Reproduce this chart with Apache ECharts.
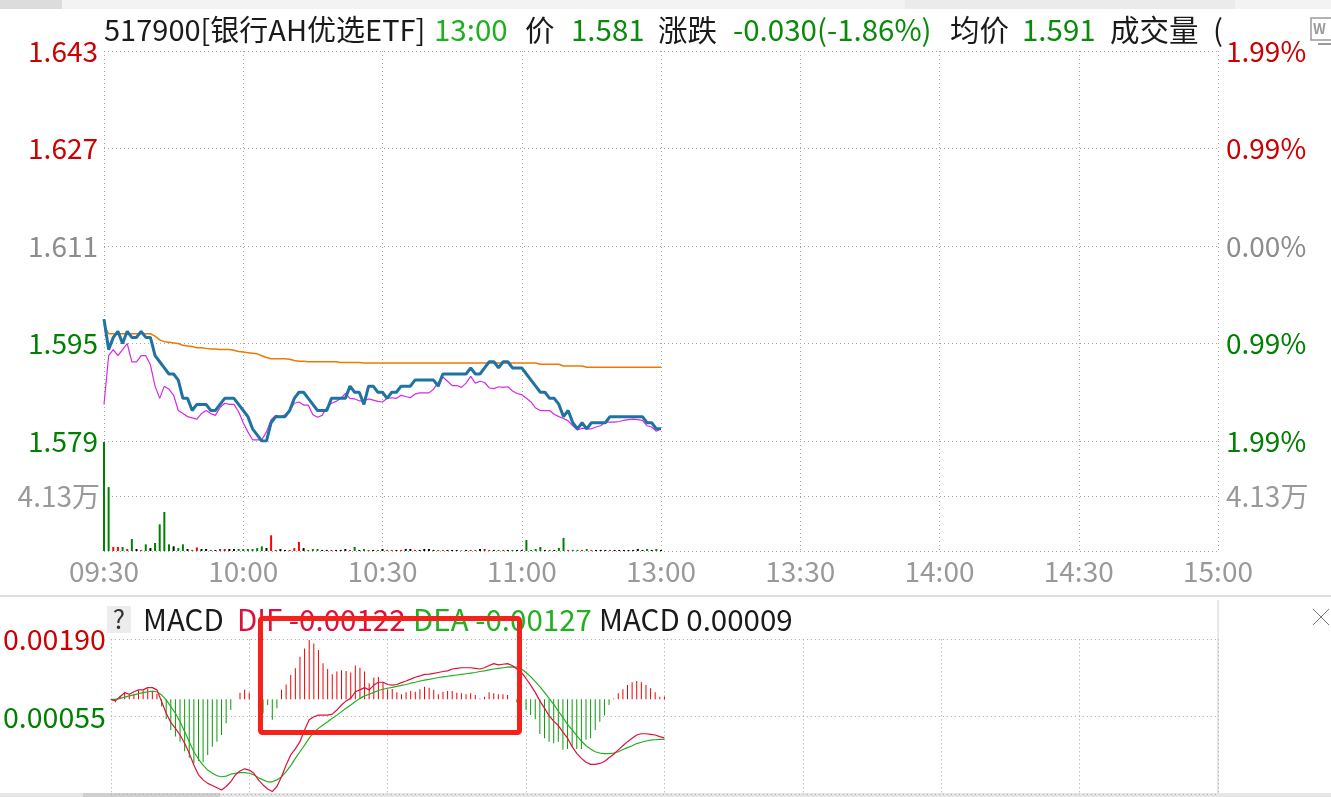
<!DOCTYPE html>
<html><head><meta charset="utf-8">
<script src="https://cdn.jsdelivr.net/npm/echarts@6/dist/echarts.min.js"></script>
<style>html,body{margin:0;padding:0;background:#fff;overflow:hidden}#c{width:1331px;height:797px;}</style>
</head><body><div id="c"></div><script>
// ---------------- DATA ----------------
const prevClose = 1.611;
const xTickLabels = ["09:30","10:00","10:30","11:00","13:00","13:30","14:00","14:30","15:00"];
const priceAxis = { min: 1.579, max: 1.643, interval: 0.016 };
const volAxis = { min: 0, max: 82600, interval: 41300 };
const macdAxis = { min: -0.0030, max: 0.0019, interval: 0.00245 };

const price = [1.599,1.594,1.596,1.597,1.595,1.597,1.596,1.596,1.597,1.596,
1.596,1.593,1.592,1.591,1.590,1.590,1.589,1.586,1.586,1.584,
1.585,1.585,1.585,1.584,1.584,1.585,1.586,1.586,1.586,1.585,
1.584,1.583,1.581,1.580,1.579,1.579,1.582,1.583,1.583,1.583,
1.584,1.586,1.587,1.587,1.586,1.585,1.584,1.584,1.584,1.586,
1.586,1.586,1.586,1.588,1.587,1.587,1.585,1.588,1.588,1.587,
1.587,1.586,1.587,1.587,1.588,1.588,1.588,1.589,1.589,1.589,
1.589,1.589,1.588,1.590,1.590,1.590,1.590,1.590,1.590,1.591,
1.590,1.590,1.591,1.592,1.592,1.591,1.592,1.592,1.591,1.591,
1.591,1.590,1.589,1.588,1.587,1.587,1.586,1.586,1.585,1.583,
1.584,1.582,1.581,1.582,1.581,1.582,1.582,1.582,1.582,1.583,
1.583,1.583,1.583,1.583,1.583,1.583,1.583,1.582,1.582,1.581,
1.581];

const iopv = [1.5850,1.5930,1.5940,1.5930,1.5940,1.5950,1.5920,1.5920,1.5930,1.5930,
1.5915,1.5880,1.5860,1.5880,1.5875,1.5865,1.5840,1.5835,1.5830,1.5828,
1.5826,1.5835,1.5840,1.5835,1.5832,1.5845,1.5852,1.5850,1.5850,1.5838,
1.5820,1.5805,1.5792,1.5792,1.5792,1.5805,1.5825,1.5832,1.5830,1.5833,
1.5840,1.5852,1.5854,1.5849,1.5849,1.5833,1.5829,1.5832,1.5845,1.5852,
1.5855,1.5860,1.5868,1.5860,1.5859,1.5856,1.5856,1.5859,1.5857,1.5855,
1.5854,1.5860,1.5861,1.5860,1.5865,1.5863,1.5861,1.5867,1.5869,1.5869,
1.5869,1.5875,1.5886,1.5895,1.5888,1.5881,1.5881,1.5878,1.5885,1.5896,
1.5885,1.5888,1.5886,1.5877,1.5876,1.5879,1.5878,1.5879,1.5872,1.5868,
1.5866,1.5860,1.5854,1.5844,1.5840,1.5840,1.5840,1.5834,1.5830,1.5827,
1.5823,1.5815,1.5808,1.5811,1.5810,1.5810,1.5813,1.5815,1.5821,1.5821,
1.5821,1.5822,1.5824,1.5825,1.5826,1.5825,1.5824,1.5815,1.5813,1.5806,
1.5810];

const avgPrice = [1.5980,1.5966,1.5966,1.5966,1.5966,1.5966,1.5966,1.5966,1.5966,1.5966,
1.5966,1.5962,1.5956,1.5953,1.5952,1.5951,1.5950,1.5947,1.5946,1.5945,
1.5943,1.5943,1.5942,1.5941,1.5941,1.5940,1.5940,1.5940,1.5939,1.5937,
1.5936,1.5935,1.5934,1.5933,1.5930,1.5927,1.5925,1.5925,1.5925,1.5925,
1.5924,1.5922,1.5921,1.5921,1.5920,1.5920,1.5920,1.5920,1.5920,1.5920,
1.5920,1.5919,1.5919,1.5919,1.5919,1.5919,1.5918,1.5918,1.5918,1.5918,
1.5918,1.5918,1.5918,1.5918,1.5918,1.5918,1.5918,1.5918,1.5918,1.5918,
1.5918,1.5918,1.5918,1.5918,1.5918,1.5918,1.5918,1.5918,1.5918,1.5918,
1.5918,1.5918,1.5918,1.5918,1.5918,1.5918,1.5918,1.5918,1.5918,1.5918,
1.5918,1.5918,1.5918,1.5918,1.5916,1.5916,1.5916,1.5916,1.5916,1.5913,
1.5913,1.5913,1.5913,1.5913,1.5911,1.5911,1.5911,1.5911,1.5911,1.5911,
1.5911,1.5911,1.5911,1.5911,1.5911,1.5911,1.5911,1.5911,1.5911,1.5911,
1.5911];

const volume = [81800,48000,3000,3000,3000,1500,9000,1500,800,5000,
2200,6000,20000,29300,5000,3500,2200,5000,1500,800,
2700,1500,1500,800,800,1500,1500,1500,1500,1500,
1500,1500,1500,2200,3500,2200,11800,800,1500,800,
800,2200,6800,2200,800,1500,1500,800,800,800,
800,800,1500,800,3000,800,1500,800,800,800,
1500,800,800,800,800,1500,1500,800,800,1500,
1500,800,800,800,800,800,800,300,800,800,
800,1500,1500,800,800,800,800,800,800,800,
800,8300,800,1500,3000,800,800,800,2300,9800,
800,800,800,800,1500,800,800,800,800,800,
800,800,800,800,800,1500,800,1500,800,1500,
800];

const dif = [0,-0.00005,0.00008,0.00021,0.00016,0.00024,0.00030,0.00030,0.00037,0.00037,
0.00030,-0.00007,-0.00044,-0.00073,-0.00092,-0.00113,-0.00139,-0.00171,-0.00208,-0.00239,
-0.00255,-0.00266,-0.00273,-0.00280,-0.00287,-0.00276,-0.00261,-0.00239,-0.00227,-0.00220,
-0.00224,-0.00234,-0.00255,-0.00271,-0.00284,-0.00292,-0.00276,-0.00245,-0.00208,-0.00176,
-0.00157,-0.00134,-0.00097,-0.00065,-0.00055,-0.00050,-0.00050,-0.00050,-0.00047,-0.00034,
-0.00018,-0.00005,0.00003,0.00024,0.00030,0.00037,0.00030,0.00045,0.00054,0.00054,
0.00047,0.00045,0.00047,0.00053,0.00058,0.00064,0.00070,0.00074,0.00079,0.00080,
0.00082,0.00085,0.00088,0.00090,0.00096,0.00098,0.00100,0.00100,0.00100,0.00098,
0.00096,0.00100,0.00107,0.00113,0.00109,0.00111,0.00113,0.00107,0.00096,0.00085,
0.00066,0.00045,0.00022,-0.00005,-0.00028,-0.00052,-0.00069,-0.00083,-0.00104,-0.00123,
-0.00150,-0.00171,-0.00187,-0.00199,-0.00206,-0.00206,-0.00203,-0.00197,-0.00185,-0.00174,
-0.00160,-0.00147,-0.00134,-0.00123,-0.00113,-0.00109,-0.00109,-0.00111,-0.00113,-0.00118,
-0.00122];

const dea = [0,0,0.00003,0.00007,0.00011,0.00014,0.00018,0.00021,0.00024,0.00026,
0.00024,0.00014,-0.00002,-0.00023,-0.00044,-0.00071,-0.00102,-0.00134,-0.00166,-0.00189,
-0.00208,-0.00224,-0.00234,-0.00242,-0.00245,-0.00243,-0.00237,-0.00234,-0.00232,-0.00232,
-0.00234,-0.00239,-0.00248,-0.00255,-0.00261,-0.00261,-0.00255,-0.00245,-0.00229,-0.00210,
-0.00187,-0.00166,-0.00145,-0.00123,-0.00104,-0.00092,-0.00081,-0.00071,-0.00060,-0.00050,
-0.00039,-0.00028,-0.00018,-0.00007,0.00003,0.00011,0.00016,0.00022,0.00028,0.00032,
0.00035,0.00038,0.00041,0.00044,0.00047,0.00051,0.00054,0.00058,0.00061,0.00063,
0.00066,0.00069,0.00071,0.00073,0.00075,0.00077,0.00079,0.00081,0.00083,0.00085,
0.00088,0.00090,0.00093,0.00096,0.00098,0.00100,0.00102,0.00103,0.00102,0.00096,
0.00085,0.00072,0.00056,0.00040,0.00022,0.00003,-0.00016,-0.00037,-0.00058,-0.00079,
-0.00097,-0.00115,-0.00132,-0.00147,-0.00157,-0.00166,-0.00170,-0.00172,-0.00172,-0.00170,
-0.00166,-0.00159,-0.00153,-0.00147,-0.00140,-0.00136,-0.00132,-0.00129,-0.00128,-0.00127,
-0.00127];

const macdHist = [0,-0.00009,0.00011,0.00024,0.00017,0.00018,0.00028,0.00028,0.00034,0.00023,
0.00018,-0.00023,-0.00062,-0.00097,-0.00118,-0.00134,-0.00164,-0.00185,-0.00203,-0.00195,
-0.00199,-0.00176,-0.00150,-0.00134,-0.00113,-0.00076,-0.00034,0,0.00021,0.00030,
0.00021,0,-0.00023,-0.00044,-0.00018,-0.00065,-0.00028,0.00030,0.00047,0.00077,
0.00098,0.00135,0.00161,0.00188,0.00177,0.00156,0.00114,0.00096,0.00079,0.00088,
0.00092,0.00090,0.00085,0.00107,0.00100,0.00088,0.00051,0.00069,0.00071,0.00054,
0.00032,0.00033,0.00022,0.00016,0.00022,0.00026,0.00024,0.00032,0.00040,0.00037,
0.00030,0.00016,0.00024,0.00026,0.00026,0.00021,0.00019,0.00016,0.00019,0.00014,
0.00003,0.00008,0.00022,0.00019,0.00016,0.00016,0.00014,0,-0.00010,-0.00020,
-0.00034,-0.00050,-0.00063,-0.00110,-0.00123,-0.00134,-0.00139,-0.00134,-0.00160,-0.00157,
-0.00150,-0.00157,-0.00157,-0.00128,-0.00123,-0.00097,-0.00071,-0.00051,-0.00018,0.00003,
0.00019,0.00032,0.00045,0.00054,0.00058,0.00054,0.00045,0.00035,0.00022,0.00008,
0.00009];

// ---------------- BUILD ----------------
function minuteLabel(i){
  let m = (i <= 120) ? 9*60+30+i : 13*60+(i-120);
  if (i === 120) m = 13*60;
  const h = Math.floor(m/60), mm = m%60;
  return (h<10?'0':'')+h+':'+(mm<10?'0':'')+mm;
}
const times = [];
for (let i=0;i<=240;i++) times.push(minuteLabel(i));

const FONT = "'Noto Sans CJK SC','Noto Sans',sans-serif";
const HF = '29.5px ' + FONT;
const RED = '#cc0000', GREEN = '#008000', GRAY = '#8c8c8c';
const dotted = { color:'#a6a6a6', width:1, type:[1,3] };

function priceColor(v){ if (v > prevClose+1e-6) return RED; if (v < prevClose-1e-6) return GREEN; return GRAY; }
function volColor(i){
  const prev = i===0 ? prevClose : price[i-1];
  if (price[i] > prev + 1e-6) return '#ff0000';
  if (price[i] < prev - 1e-6) return '#008000';
  return '#000000';
}

const baseX = (gi, showLabel) => ({
  type:'category', gridIndex:gi, data:times, boundaryGap:false,
  axisLine:{show:false}, axisTick:{show:false},
  axisLabel: showLabel ? { show:true, interval:29, color:'#999999', fontSize:28, fontFamily:FONT, margin:6 } : {show:false},
  splitLine:{ show:true, interval:29, lineStyle:dotted }
});

const lastI = price.length-1;
const chg = price[lastI]-prevClose;
const T = (x,y,text,fill,font) => ({type:'text', x:x, y:y, style:{text:text, fill:fill, font:font||HF, verticalAlign:'middle'}});

const option = {
  animation:false,
  backgroundColor:'#ffffff',
  grid:[
    {left:104, right:113, top:51, height:390},
    {left:104, right:113, top:441, height:110},
    {left:104, right:113, top:639.3, height:154.8}
  ],
  xAxis:[ baseX(0,false), baseX(1,true), baseX(2,false) ],
  yAxis:[
    {type:'value', gridIndex:0, min:priceAxis.min, max:priceAxis.max, interval:priceAxis.interval,
     axisLine:{show:false}, axisTick:{show:false},
     axisLabel:{fontSize:28, fontFamily:FONT, margin:6, formatter:v=>v.toFixed(3), color:v=>priceColor(v)},
     splitLine:{show:true, lineStyle:dotted}},
    {type:'value', gridIndex:0, position:'right', min:priceAxis.min, max:priceAxis.max, interval:priceAxis.interval,
     axisLine:{show:false}, axisTick:{show:false},
     axisLabel:{fontSize:28, fontFamily:FONT, margin:8, formatter:v=>Math.abs((v-prevClose)/prevClose*100).toFixed(2)+'%', color:v=>priceColor(v)},
     splitLine:{show:false}},
    {type:'value', gridIndex:1, min:volAxis.min, max:volAxis.max, interval:volAxis.interval,
     axisLine:{show:false}, axisTick:{show:false},
     axisLabel:{fontSize:28, fontFamily:FONT, margin:4, color:'#999999', formatter:v=>Math.abs(v-volAxis.interval)<1 ? (v/10000).toFixed(2)+'万' : ''},
     splitLine:{show:true, lineStyle:dotted}},
    {type:'value', gridIndex:1, position:'right', min:volAxis.min, max:volAxis.max, interval:volAxis.interval,
     axisLine:{show:false}, axisTick:{show:false},
     axisLabel:{fontSize:28, fontFamily:FONT, margin:8, color:'#999999', formatter:v=>Math.abs(v-volAxis.interval)<1 ? (v/10000).toFixed(2)+'万' : ''},
     splitLine:{show:false}},
    {type:'value', gridIndex:2, min:macdAxis.min, max:macdAxis.max, interval:macdAxis.interval,
     axisLine:{show:false}, axisTick:{show:false},
     axisLabel:{fontSize:28.5, fontFamily:FONT, margin:5, showMinLabel:false,
       formatter:v=> Math.abs(v-macdAxis.min)<1e-7 ? '' : Math.abs(v).toFixed(5),
       color:v=> v>0 ? RED : GREEN},
     splitLine:{show:true, lineStyle:dotted}}
  ],
  series:[
    {type:'line', name:'均价', xAxisIndex:0, yAxisIndex:0, data:avgPrice, symbol:'none', z:3,
     lineStyle:{color:'#f07800', width:1.5}},
    {type:'line', name:'IOPV', xAxisIndex:0, yAxisIndex:0, data:iopv, symbol:'none', z:4,
     lineStyle:{color:'#d42ae8', width:1.2}},
    {type:'line', name:'价格', xAxisIndex:0, yAxisIndex:0, data:price, symbol:'none', z:5,
     lineStyle:{color:'#1f73a3', width:3}},
    {type:'bar', name:'成交量', xAxisIndex:1, yAxisIndex:2, data:volume, barWidth:2,
     itemStyle:{color:p=>volColor(p.dataIndex)}},
    {type:'bar', name:'MACD', xAxisIndex:2, yAxisIndex:4, data:macdHist, barWidth:1,
     itemStyle:{color:p=> p.value>=0 ? '#ee0000' : '#0a9a0a'}},
    {type:'line', name:'DEA', xAxisIndex:2, yAxisIndex:4, data:dea, symbol:'none', z:4,
     lineStyle:{color:'#22b022', width:1.2}},
    {type:'line', name:'DIF', xAxisIndex:2, yAxisIndex:4, data:dif, symbol:'none', z:5,
     lineStyle:{color:'#e0103c', width:1.2}}
  ],
  graphic:[
    // top toolbar strip
    {type:'rect', shape:{x:0,y:0,width:1331,height:9}, style:{fill:'#f3f3f3'}},
    {type:'rect', shape:{x:0,y:0,width:62,height:9}, style:{fill:'#dcdcdc'}},
    {type:'rect', shape:{x:905,y:0,width:330,height:9}, style:{fill:'#ebebeb'}},
    // header
    T(104,30,'517900[银行AH优选ETF]','#1a1a1a','29px '+FONT),
    T(434,30,times[lastI],'#1fb01f'),
    T(525,30,'价','#1a1a1a'),
    T(571,30,price[lastI].toFixed(3),'#0a8a0a'),
    T(658,30,'涨跌','#1a1a1a'),
    T(733,30,chg.toFixed(3)+'('+(chg/prevClose*100).toFixed(2)+'%)','#0a8a0a'),
    T(950,30,'均价','#1a1a1a'),
    T(1022,30,avgPrice[lastI].toFixed(3),'#0a8a0a'),
    T(1110,30,'成交量','#1a1a1a'),
    T(1213,30,'(','#1a1a1a'),
    // top-right icon
    {type:'rect', shape:{x:1311,y:18,width:30,height:22}, style:{fill:'#fff', stroke:'#9a9a9a', lineWidth:1.5}},
    {type:'text', x:1313, y:29, style:{text:'W', fill:'#9a9a9a', font:'bold 14px '+FONT, verticalAlign:'middle'}},
    {type:'line', shape:{x1:1318,y1:44,x2:1331,y2:44}, style:{stroke:'#9a9a9a', lineWidth:2}},
    // separator
    {type:'rect', shape:{x:0,y:595,width:1331,height:2}, style:{fill:'#dedede'}},
    {type:'line', shape:{x1:1218,y1:600,x2:1218,y2:797}, style:{stroke:'#d0d0d0', lineWidth:1}},
    // MACD header
    {type:'rect', shape:{x:107,y:606,width:24,height:27}, style:{fill:'#ececec'}},
    {type:'text', x:119, y:619, style:{text:'?', fill:'#333', font:'26px '+FONT, align:'center', verticalAlign:'middle'}},
    T(143,620,'MACD','#1a1a1a'),
    T(237,620,'DIF '+dif[lastI].toFixed(5),'#e0103c'),
    T(413,620,'DEA '+dea[lastI].toFixed(5),'#22b022'),
    T(599,620,'MACD '+macdHist[lastI].toFixed(5),'#1a1a1a'),
    // close box
    {type:'line', shape:{x1:1313,y1:609,x2:1329,y2:625}, style:{stroke:'#777', lineWidth:1}},
    {type:'line', shape:{x1:1329,y1:609,x2:1313,y2:625}, style:{stroke:'#777', lineWidth:1}},
    // red annotation box
    {type:'rect', z:100, shape:{x:260.5,y:618.5,width:259,height:114,r:2}, style:{fill:null, stroke:'#f5221b', lineWidth:5}},
    // bottom scrollbar
    {type:'rect', shape:{x:0,y:793,width:1331,height:4}, style:{fill:'#e6e6e6'}},
    {type:'rect', shape:{x:83,y:793,width:137,height:4}, style:{fill:'#cfcfcf'}}
  ]
};

const chart = echarts.init(document.getElementById('c'), null, {renderer:'canvas'});
chart.setOption(option);
</script></body></html>
